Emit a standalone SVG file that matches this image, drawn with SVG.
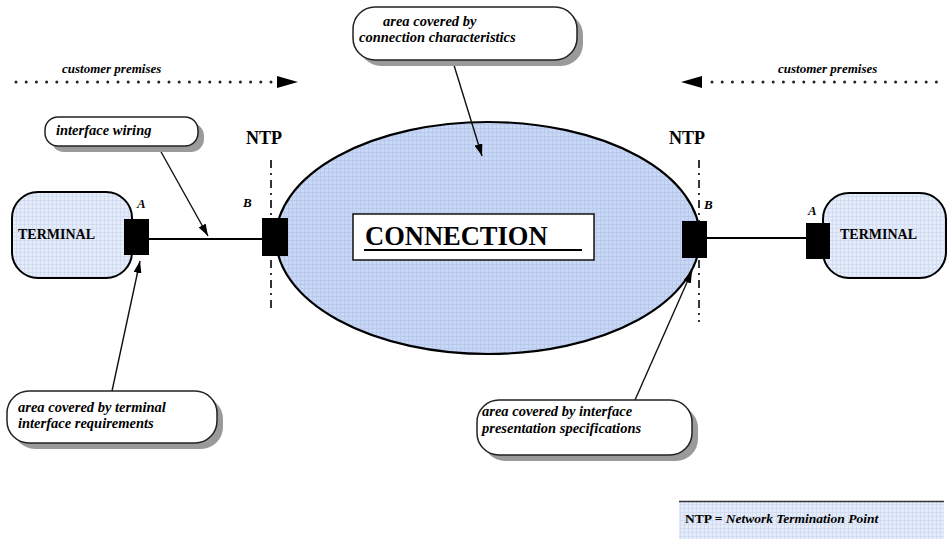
<svg xmlns="http://www.w3.org/2000/svg" width="948" height="539" viewBox="0 0 948 539">
<style>
.ser{font-family:"Liberation Serif","Times New Roman",serif;font-weight:bold}
.it{font-style:italic}
.call{fill:#fff;stroke:#222;stroke-width:1.5}
.shadow{fill:#9a9a9a}
.ptr{stroke:#111;stroke-width:1.4;fill:none;marker-end:url(#ah)}
.blk{fill:#000}
.ntpl{stroke:#333;stroke-width:2;stroke-dasharray:8 5 2 5;fill:none}
.dots{stroke:#222;stroke-width:3;stroke-linecap:round;stroke-dasharray:0 10.2;fill:none}
</style>
<defs>
<pattern id="grid" width="4" height="4" patternUnits="userSpaceOnUse">
<rect width="4" height="4" fill="#c9d8f6"/>
<path d="M0 0.5H4M0.5 0V4" stroke="#b9c9ec" stroke-width="1"/>
</pattern>
<pattern id="gridl" width="4" height="4" patternUnits="userSpaceOnUse">
<rect width="4" height="4" fill="#e6ecf9"/>
<path d="M0 0.5H4M0.5 0V4" stroke="#d3ddf2" stroke-width="1"/>
</pattern>
<marker id="ah" viewBox="0 0 12 8" refX="12" refY="4" markerWidth="12" markerHeight="8" markerUnits="userSpaceOnUse" orient="auto">
<path d="M0 0L12 4L0 8z" fill="#000"/>
</marker>
</defs>

<g id="premises-left">
<text class="ser it" x="62" y="73" font-size="13">customer premises</text>
<path class="dots" d="M16 82H276"/>
<path class="blk" d="M277 76L298 82L277 88z"/>
</g>
<g id="premises-right">
<text class="ser it" x="778" y="73" font-size="13">customer premises</text>
<path class="dots" d="M712 82H946"/>
<path class="blk" d="M702 76L681 82L702 88z"/>
</g>

<g id="connection">
<ellipse cx="488" cy="238" rx="212" ry="116" fill="url(#grid)" stroke="#000" stroke-width="2.2"/>
<rect x="353" y="214" width="241" height="46" fill="#fff" stroke="#111" stroke-width="1.5"/>
<text class="ser" x="365" y="245" font-size="26.5">CONNECTION</text>
<path d="M364 250H582" stroke="#000" stroke-width="2.2"/>
</g>

<g id="ntp-left">
<text class="ser" x="264" y="144" font-size="18" text-anchor="middle">NTP</text>
<path class="ntpl" d="M271 160V312"/>
</g>
<g id="ntp-right">
<text class="ser" x="687" y="144" font-size="18" text-anchor="middle">NTP</text>
<path class="ntpl" d="M699 160V322"/>
</g>

<g id="connectors">
<path d="M149 239H262" stroke="#000" stroke-width="2"/>
<path d="M707 238H806" stroke="#000" stroke-width="2"/>
<path class="ptr" d="M160 150L208 236"/>
<path class="ptr" d="M453 62L482 156"/>
<path class="ptr" d="M112 391L140 261"/>
<path class="ptr" d="M635 400L692 271"/>
</g>

<g id="terminal-left">
<rect x="12" y="192" width="120" height="86" rx="26" fill="url(#gridl)" stroke="#000" stroke-width="2"/>
<text class="ser" x="18" y="239" font-size="14">TERMINAL</text>
</g>
<g id="terminal-right">
<rect x="823" y="193" width="123" height="85" rx="26" fill="url(#gridl)" stroke="#000" stroke-width="2"/>
<text class="ser" x="840" y="239" font-size="14">TERMINAL</text>
</g>

<g id="port-a-left">
<rect class="blk" x="124" y="219" width="25" height="36"/>
<text class="ser it" x="137" y="208" font-size="13">A</text>
</g>
<g id="port-b-left">
<rect class="blk" x="262" y="218" width="26" height="38"/>
<text class="ser it" x="243" y="207" font-size="13">B</text>
</g>
<g id="port-b-right">
<rect class="blk" x="682" y="221" width="25" height="37"/>
<text class="ser it" x="704" y="209" font-size="13">B</text>
</g>
<g id="port-a-right">
<rect class="blk" x="806" y="223" width="24" height="36"/>
<text class="ser it" x="808" y="215" font-size="13">A</text>
</g>

<g id="callout-wiring">
<rect class="shadow" x="51" y="123" width="153" height="29" rx="13"/>
<rect class="call" x="45" y="117" width="153" height="29" rx="13"/>
<text class="ser it" x="56" y="135" font-size="14.5">interface wiring</text>
</g>
<g id="callout-connection">
<rect class="shadow" x="359" y="13" width="224" height="53" rx="22"/>
<rect class="call" x="353" y="7" width="224" height="53" rx="22"/>
<text class="ser it" x="383" y="26" font-size="14.5">area covered by</text>
<text class="ser it" x="359" y="42" font-size="14.5">connection characteristics</text>
</g>
<g id="callout-terminal">
<rect class="shadow" x="13" y="397" width="210" height="52" rx="22"/>
<rect class="call" x="7" y="391" width="210" height="52" rx="22"/>
<text class="ser it" x="18" y="412" font-size="14.5">area covered by terminal</text>
<text class="ser it" x="18" y="428" font-size="14.5">interface requirements</text>
</g>
<g id="callout-interface">
<rect class="shadow" x="483" y="406" width="215" height="55" rx="22"/>
<rect class="call" x="477" y="400" width="215" height="55" rx="22"/>
<text class="ser it" x="482" y="416" font-size="14.5">area covered by interface</text>
<text class="ser it" x="482" y="433" font-size="14.5">presentation specifications</text>
</g>

<g id="legend">
<rect x="679" y="501" width="265" height="38" fill="url(#gridl)"/>
<path d="M679 501.5H944" stroke="#333" stroke-width="1.5"/>
<text class="ser" x="685" y="523" font-size="13.5">NTP = <tspan class="it">Network Termination Point</tspan></text>
</g>
</svg>
